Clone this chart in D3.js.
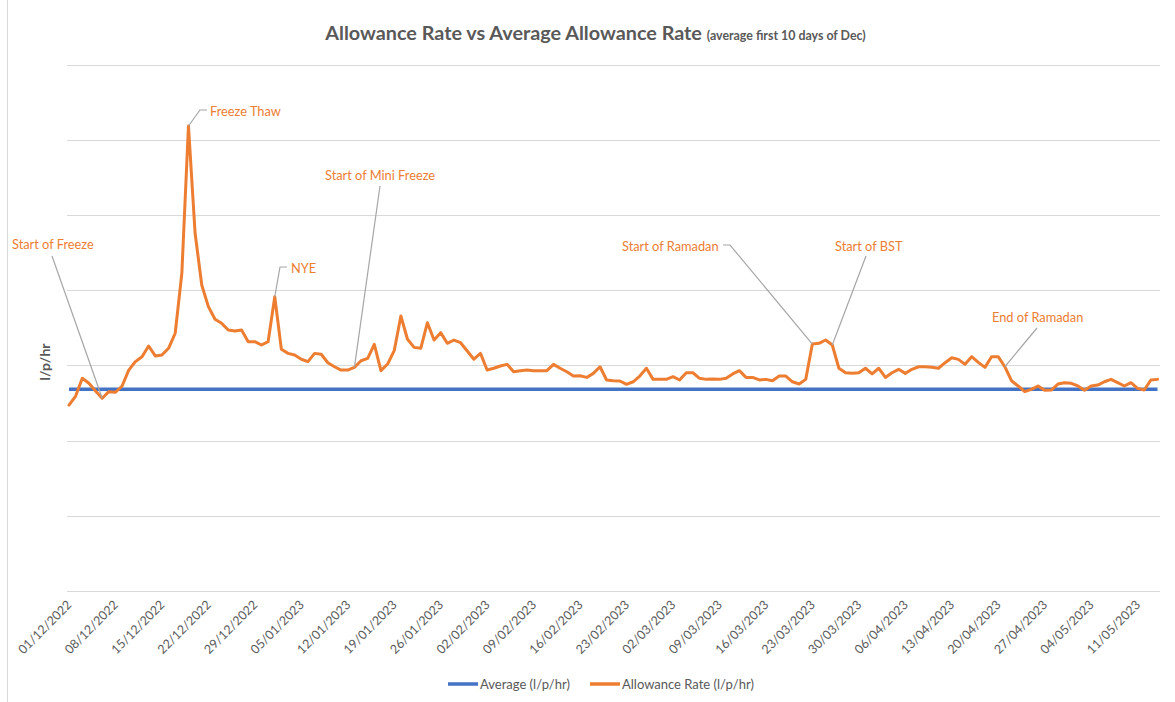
<!DOCTYPE html>
<html>
<head>
<meta charset="utf-8">
<script src="https://cdn.jsdelivr.net/npm/d3@7"></script>
<style>
  html, body { margin: 0; padding: 0; background: #ffffff; }
  svg { display: block; font-family: Lato, "Open Sans", sans-serif; }
</style>
</head>
<body>
<svg id="chart" width="1175" height="702"></svg>
<script>
// ---------- DATA ----------
const startDate = "2022-12-01";
const allowanceRate = [
  12.36, 12.96, 14.14, 13.81, 13.30, 12.81, 13.25, 13.21, 13.63, 14.69,
  15.25, 15.58, 16.29, 15.63, 15.69, 16.14, 17.14, 21.13, 30.94, 23.80,
  20.35, 18.91, 18.07, 17.80, 17.36, 17.29, 17.36, 16.58, 16.58, 16.36,
  16.58, 19.57, 16.07, 15.80, 15.69, 15.41, 15.25, 15.80, 15.74, 15.18,
  14.91, 14.69, 14.69, 14.87, 15.31, 15.47, 16.40, 14.65, 15.09, 15.98,
  18.29, 16.74, 16.20, 16.14, 17.84, 16.69, 17.18, 16.47, 16.69, 16.51,
  15.96, 15.41, 15.80, 14.69, 14.81, 14.96, 15.07, 14.58, 14.65, 14.69,
  14.65, 14.65, 14.65, 15.07, 14.81, 14.58, 14.29, 14.31, 14.20, 14.47,
  14.91, 14.03, 13.98, 13.96, 13.74, 13.91, 14.29, 14.81, 14.07, 14.07,
  14.07, 14.25, 14.03, 14.51, 14.51, 14.14, 14.07, 14.09, 14.07, 14.14,
  14.43, 14.65, 14.20, 14.20, 14.03, 14.07, 13.98, 14.29, 14.29, 13.91,
  13.76, 14.07, 16.42, 16.47, 16.69, 16.36, 14.81, 14.51, 14.47, 14.51,
  14.81, 14.43, 14.81, 14.20, 14.51, 14.74, 14.47, 14.74, 14.91, 14.91,
  14.87, 14.81, 15.18, 15.51, 15.40, 15.07, 15.58, 15.20, 14.87, 15.58,
  15.58, 14.91, 13.98, 13.63, 13.25, 13.40, 13.63, 13.34, 13.36, 13.76,
  13.85, 13.81, 13.63, 13.34, 13.63, 13.69, 13.91, 14.07, 13.85, 13.63,
  13.85, 13.47, 13.36, 14.03, 14.07
];
const averageRate = 13.41;
const tickLabels = [
  "01/12/2022", "08/12/2022", "15/12/2022", "22/12/2022", "29/12/2022",
  "05/01/2023", "12/01/2023", "19/01/2023", "26/01/2023", "02/02/2023",
  "09/02/2023", "16/02/2023", "23/02/2023", "02/03/2023", "09/03/2023",
  "16/03/2023", "23/03/2023", "30/03/2023", "06/04/2023", "13/04/2023",
  "20/04/2023", "27/04/2023", "04/05/2023", "11/05/2023"
];
const annotationLabels = ["Start of Freeze", "Freeze Thaw", "NYE", "Start of Mini Freeze",
                          "Start of Ramadan", "Start of BST", "End of Ramadan"];
const annotationDates = ["06/12/2022", "19/12/2022", "01/01/2023", "13/01/2023",
                         "23/03/2023", "26/03/2023", "21/04/2023"];
const seriesNames = ["Average (l/p/hr)", "Allowance Rate (l/p/hr)"];
const yMax = 35, yStep = 5;

// ---------- LAYOUT ----------
const W = 1175, H = 702;
const plot = { left: 69, right: 1157.5, top: 65, bottom: 590.7, gridL: 67, gridR: 1160 };
const colors = { avg: "#4472C4", rate: "#ED7D31", grid: "#d9d9d9", text: "#595959", leader: "#a6a6a6" };
const annotationLayout = [
  { tx: 12,  ty: 249, anchor: "start", leader: [[52, 256]] },
  { tx: 210, ty: 116, anchor: "start", leader: [[207, 110], [200, 110]] },
  { tx: 291, ty: 273, anchor: "start", leader: [[287, 267], [280, 267]] },
  { tx: 325, ty: 180, anchor: "start", leader: [[380, 186]] },
  { tx: 622, ty: 251, anchor: "start", leader: [[723, 245], [730, 245]] },
  { tx: 835, ty: 251, anchor: "start", leader: [[866, 256]] },
  { tx: 992, ty: 322, anchor: "start", leader: [[1037, 328]] }
];

const parse = d3.timeParse("%d/%m/%Y");
const start = d3.timeParse("%Y-%m-%d")(startDate);
const dates = allowanceRate.map((_, i) => d3.timeDay.offset(start, i));
const data = dates.map((d, i) => ({ date: d, v: allowanceRate[i] }));

const svg = d3.select("#chart");
svg.append("rect").attr("width", W).attr("height", H).attr("fill", "#fff");
svg.append("line").attr("x1", 7.5).attr("x2", 7.5).attr("y1", 0).attr("y2", H)
  .attr("stroke", "#d9d9d9").attr("stroke-width", 1);

const x = d3.scaleTime().domain([dates[0], dates[dates.length - 1]]).range([plot.left, plot.right]);
const y = d3.scaleLinear().domain([0, yMax]).range([plot.bottom, plot.top]);

// gridlines
const yTicks = d3.range(0, yMax + 0.001, yStep);
svg.append("g").selectAll("line").data(yTicks).join("line")
  .attr("x1", plot.gridL).attr("x2", plot.gridR)
  .attr("y1", d => Math.round(y(d)) + 0.5).attr("y2", d => Math.round(y(d)) + 0.5)
  .attr("stroke", colors.grid).attr("stroke-width", 1);

// x axis labels via axis generator
const tickDates = tickLabels.map(parse);
const xAxis = d3.axisBottom(x).tickValues(tickDates).tickSize(0)
  .tickFormat(d => tickLabels[tickDates.findIndex(t => +t === +d)]);
const gx = svg.append("g").attr("transform", `translate(0,${plot.bottom})`).call(xAxis);
gx.select(".domain").remove();
gx.selectAll("text")
  .attr("font-family", "Lato, sans-serif").attr("font-size", 12.5).attr("fill", colors.text)
  .attr("text-anchor", "end").attr("dy", 0).attr("y", 0)
  .attr("transform", "translate(3,15) rotate(-45)");

// average line
svg.append("line")
  .attr("x1", plot.left).attr("x2", plot.right)
  .attr("y1", y(averageRate)).attr("y2", y(averageRate))
  .attr("stroke", colors.avg).attr("stroke-width", 3.5);

// allowance rate line
svg.append("path").datum(data)
  .attr("d", d3.line().x(d => x(d.date)).y(d => y(d.v)))
  .attr("fill", "none").attr("stroke", colors.rate).attr("stroke-width", 3)
  .attr("stroke-linejoin", "round").attr("stroke-linecap", "round");

// annotations
annotationLabels.forEach((label, i) => {
  const lay = annotationLayout[i];
  const d = parse(annotationDates[i]);
  const idx = d3.timeDay.count(start, d);
  const px = x(d), py = y(allowanceRate[idx]);
  const pts = lay.leader.concat([[px, py]]);
  svg.append("path").attr("d", d3.line()(pts))
    .attr("fill", "none").attr("stroke", colors.leader).attr("stroke-width", 1.2);
  svg.append("text").attr("x", lay.tx).attr("y", lay.ty)
    .attr("text-anchor", lay.anchor)
    .attr("font-size", 12.8).attr("fill", colors.rate).text(label);
});

// title
const title = svg.append("text").attr("x", 595.5).attr("y", 40).attr("text-anchor", "middle")
  .attr("fill", colors.text);
title.append("tspan").attr("font-size", 19.8).attr("font-weight", 700).text("Allowance Rate vs Average Allowance Rate ");
title.append("tspan").attr("font-size", 12.4).attr("font-weight", 700).text("(average first 10 days of Dec)");

// y axis title
svg.append("text").attr("transform", `translate(50,${362}) rotate(-90)`)
  .attr("text-anchor", "middle").attr("font-size", 14).attr("font-weight", 700)
  .attr("fill", colors.text).text("l/p/hr");

// legend
const legend = [
  { name: seriesNames[0], color: colors.avg, x: 448 },
  { name: seriesNames[1], color: colors.rate, x: 590 }
];
const lg = svg.append("g");
legend.forEach(l => {
  lg.append("line").attr("x1", l.x).attr("x2", l.x + 30).attr("y1", 684).attr("y2", 684)
    .attr("stroke", l.color).attr("stroke-width", 3.5);
  lg.append("text").attr("x", l.x + 32).attr("y", 689).attr("font-size", 13)
    .attr("fill", colors.text).text(l.name);
});
</script>
</body>
</html>
